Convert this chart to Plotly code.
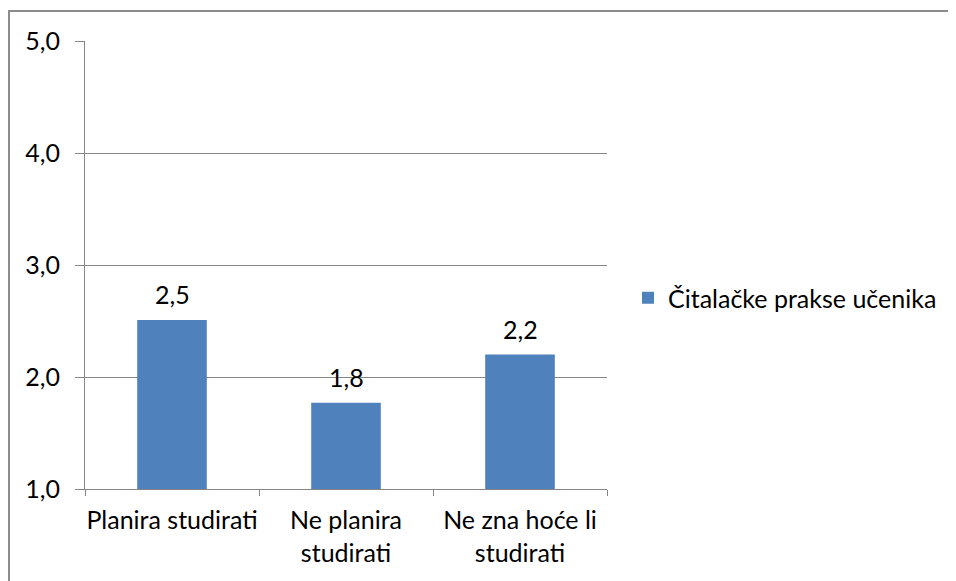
import plotly.graph_objects as go

categories = ["Planira studirati", "Ne planira<br>studirati", "Ne zna hoće li<br>studirati"]
values = [2.51, 1.77, 2.2]
series_name = "Čitalačke prakse učenika"
y_ticks = [1, 2, 3, 4, 5]

# page body adds 8px margin, so figure pixels = screen pixels - 8
W, H = 948, 581
L, R, T, B = 77, 599, 33, 481  # plot area in figure pixels

font = "Lato, Carlito, 'Open Sans', sans-serif"
grid = "#868686"
fs = 25

fig = go.Figure()
fig.add_trace(go.Bar(
    x=categories, y=values, name=series_name,
    marker=dict(color="#4F81BD", line=dict(width=0)),
    width=0.4,
    showlegend=True,
))

# value labels above bars
for c, v in zip(categories, values):
    fig.add_annotation(
        x=c, y=v, text=f"{v:.1f}".replace(".", ","),
        showarrow=False, yanchor="bottom", yshift=9,
        font=dict(size=fs, color="#000000"),
    )

px = lambda x: (x - L) / (R - L)
py = lambda y: (B - y) / (B - T)

fig.update_layout(
    width=W, height=H,
    margin=dict(l=L, r=W - R, t=T, b=H - B, autoexpand=False),
    paper_bgcolor="white", plot_bgcolor="white",
    separators=", ",
    font=dict(family=font, size=fs, color="#000000"),
    xaxis=dict(
        showline=True, linecolor=grid, linewidth=1,
        ticks="outside", tickson="boundaries", ticklen=6, tickcolor=grid,
        ticklabelstandoff=9,
        showgrid=False, tickfont=dict(size=fs), tickangle=0, automargin=False,
    ),
    yaxis=dict(
        range=[1, 5], tickvals=y_ticks, tickformat=".1f",
        showline=True, linecolor=grid, linewidth=1,
        ticks="outside", ticklen=9, tickcolor=grid,
        ticklabelstandoff=10, automargin=False,
        showgrid=True, gridcolor=grid, gridwidth=1,
        zeroline=False, tickfont=dict(size=fs),
    ),
    legend=dict(
        x=px(620), y=py(290),
        xanchor="left", yanchor="middle",
        font=dict(size=fs), itemwidth=30,
        bgcolor="rgba(0,0,0,0)",
    ),
    shapes=[
        dict(type="line", xref="paper", yref="paper",
             x0=px(1), x1=px(W + 20), y0=py(3), y1=py(3),
             line=dict(color="#8C8C8C", width=2), layer="below"),
        dict(type="line", xref="paper", yref="paper",
             x0=px(1), x1=px(1), y0=py(2), y1=py(H + 20),
             line=dict(color="#8C8C8C", width=2), layer="below"),
    ],
)

fig.write_html("out.html")
